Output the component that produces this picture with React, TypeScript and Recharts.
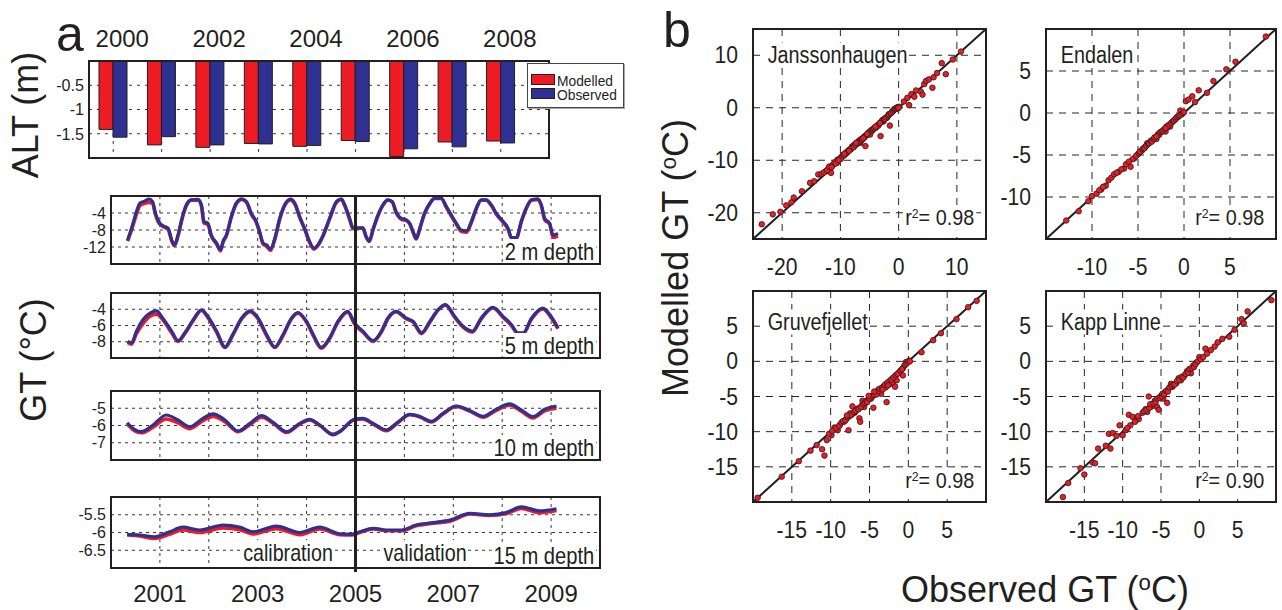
import {
  BarChart,
  Bar,
  LineChart,
  Line,
  ScatterChart,
  Scatter,
  XAxis,
  YAxis,
  CartesianGrid,
  ReferenceLine,
} from 'recharts'

const FONT = '"Liberation Sans", Arial, Helvetica, sans-serif'
const INK = '#231f20'
const RED = '#ed1c24'
const BLUE = '#2e3192'

// ---- panel a: active layer thickness ----
const altYears = [2000, 2001, 2002, 2003, 2004, 2005, 2006, 2007, 2008]
const altModelled = [-1.41, -1.73, -1.78, -1.7, -1.76, -1.64, -1.97, -1.67, -1.65]
const altObserved = [-1.57, -1.56, -1.73, -1.71, -1.74, -1.66, -1.81, -1.77, -1.69]
const altTicks = [-1.5, -1, -0.5]

// ---- panel a: ground temperature series, [year, degC] ----
const tsYears = [2001, 2002, 2003, 2004, 2005, 2006, 2007, 2008, 2009]

const gt2Obs = [
  [2000.34, -10.4], [2000.42, -7.6], [2000.52, -3.7], [2000.59, -1.7], [2000.69, -1.2], [2000.78, -0.7],
  [2000.85, -1.3], [2000.91, -4.1], [2001.0, -6.4], [2001.1, -7.2], [2001.17, -7.6], [2001.24, -10.4],
  [2001.3, -11.5], [2001.37, -9.2], [2001.46, -4.9], [2001.54, -2.1], [2001.64, -0.9], [2001.78, -0.8],
  [2001.85, -2.1], [2001.9, -6.0], [2001.98, -6.4], [2002.05, -9.2], [2002.16, -11.1], [2002.24, -12.7],
  [2002.29, -10.7], [2002.36, -9.2], [2002.46, -4.9], [2002.56, -1.7], [2002.67, -0.7], [2002.77, -1.3],
  [2002.87, -4.1], [2002.97, -6.0], [2003.04, -8.4], [2003.11, -11.1], [2003.18, -11.5], [2003.26, -12.5],
  [2003.35, -10.0], [2003.45, -5.3], [2003.55, -2.1], [2003.67, -0.7], [2003.76, -1.7], [2003.86, -4.9],
  [2003.96, -7.6], [2004.06, -10.7], [2004.15, -12.3], [2004.23, -11.5], [2004.34, -9.2], [2004.47, -5.3],
  [2004.61, -1.3], [2004.71, -0.7], [2004.78, -2.1], [2004.88, -5.3], [2004.95, -7.5], [2005.05, -7.5],
  [2005.15, -7.5], [2005.22, -9.6], [2005.28, -10.6], [2005.36, -7.8], [2005.46, -4.5], [2005.56, -2.1],
  [2005.66, -0.9], [2005.75, -1.3], [2005.83, -3.7], [2005.94, -5.3], [2006.04, -5.6], [2006.11, -6.4],
  [2006.19, -8.8], [2006.24, -10.0], [2006.31, -7.8], [2006.41, -4.1], [2006.52, -1.7], [2006.62, -0.5],
  [2006.75, -0.5], [2006.86, -2.5], [2006.96, -4.5], [2007.06, -6.4], [2007.16, -8.0], [2007.27, -8.2],
  [2007.37, -6.0], [2007.47, -2.9], [2007.57, -0.9], [2007.67, -0.9], [2007.78, -2.1], [2007.88, -4.1],
  [2008.02, -6.0], [2008.12, -7.6], [2008.19, -9.8], [2008.29, -9.8], [2008.39, -6.0], [2008.49, -2.9],
  [2008.6, -0.9], [2008.73, -0.7], [2008.8, -2.1], [2008.87, -5.3], [2008.97, -6.4], [2009.04, -9.2],
  [2009.14, -8.8],
]
const gt2Mod = [
  [2000.34, -10.6], [2000.42, -8.0], [2000.52, -4.3], [2000.59, -2.3], [2000.69, -1.7], [2000.78, -1.5],
  [2000.85, -1.8], [2000.91, -4.4], [2001.0, -6.7], [2001.1, -7.4], [2001.17, -7.9], [2001.24, -10.5],
  [2001.3, -11.7], [2001.37, -9.4], [2001.46, -5.1], [2001.54, -2.3], [2001.64, -1.0], [2001.78, -0.9],
  [2001.85, -2.4], [2001.9, -6.3], [2001.98, -6.7], [2002.05, -9.4], [2002.16, -11.3], [2002.24, -12.9],
  [2002.29, -10.9], [2002.36, -9.3], [2002.46, -5.0], [2002.56, -1.9], [2002.67, -0.8], [2002.77, -1.5],
  [2002.87, -4.3], [2002.97, -6.2], [2003.04, -8.6], [2003.11, -11.3], [2003.18, -11.8], [2003.26, -12.8],
  [2003.35, -10.2], [2003.45, -5.5], [2003.55, -2.3], [2003.67, -0.9], [2003.76, -1.9], [2003.86, -5.1],
  [2003.96, -7.8], [2004.06, -10.9], [2004.15, -12.5], [2004.23, -11.7], [2004.34, -9.3], [2004.47, -5.4],
  [2004.61, -1.5], [2004.71, -0.8], [2004.78, -2.3], [2004.88, -5.5], [2004.95, -7.7], [2005.05, -7.6],
  [2005.15, -7.6], [2005.22, -9.7], [2005.28, -10.7], [2005.36, -7.9], [2005.46, -4.6], [2005.56, -2.2],
  [2005.66, -1.0], [2005.75, -1.4], [2005.83, -3.9], [2005.94, -5.5], [2006.04, -5.8], [2006.11, -6.6],
  [2006.19, -8.9], [2006.24, -10.1], [2006.31, -7.9], [2006.41, -4.2], [2006.52, -1.8], [2006.62, -0.6],
  [2006.75, -0.6], [2006.86, -2.7], [2006.96, -4.7], [2007.06, -6.6], [2007.16, -8.3], [2007.27, -8.5],
  [2007.37, -6.2], [2007.47, -3.0], [2007.57, -1.0], [2007.67, -1.0], [2007.78, -2.3], [2007.88, -4.3],
  [2008.02, -6.2], [2008.12, -7.8], [2008.19, -9.9], [2008.29, -9.9], [2008.39, -6.1], [2008.49, -3.0],
  [2008.6, -1.0], [2008.73, -0.8], [2008.8, -2.3], [2008.87, -5.6], [2008.97, -6.6], [2009.04, -9.8],
  [2009.14, -9.4],
]

const gt5Obs = [
  [2000.34, -7.96], [2000.42, -8.15], [2000.52, -6.7], [2000.65, -5.3], [2000.79, -4.5], [2000.93, -4.2],
  [2001.06, -5.1], [2001.24, -6.7], [2001.37, -7.87], [2001.51, -6.9], [2001.68, -5.3], [2001.85, -4.06],
  [2001.98, -4.9], [2002.16, -6.7], [2002.33, -8.65], [2002.49, -7.1], [2002.67, -5.1], [2002.84, -4.2],
  [2003.01, -5.1], [2003.18, -7.1], [2003.35, -8.65], [2003.52, -7.1], [2003.69, -5.1], [2003.82, -4.4],
  [2004.0, -5.5], [2004.15, -7.3], [2004.3, -8.7], [2004.47, -7.55], [2004.64, -5.5], [2004.84, -4.26],
  [2004.98, -5.7], [2005.15, -6.7], [2005.36, -7.87], [2005.53, -6.7], [2005.66, -5.1], [2005.83, -4.26],
  [2006.04, -5.1], [2006.18, -5.5], [2006.35, -6.9], [2006.52, -5.5], [2006.69, -4.06], [2006.84, -3.44],
  [2007.03, -4.9], [2007.2, -6.1], [2007.39, -6.7], [2007.57, -5.1], [2007.81, -3.77], [2008.02, -4.9],
  [2008.19, -5.9], [2008.32, -6.9], [2008.43, -6.9], [2008.6, -5.1], [2008.83, -3.85], [2009.0, -4.9],
  [2009.14, -6.3],
]
const gt5Mod = [
  [2000.34, -8.1], [2000.42, -8.3], [2000.52, -7.0], [2000.65, -5.8], [2000.79, -4.9], [2000.93, -4.6],
  [2001.06, -5.3], [2001.24, -6.9], [2001.37, -7.95], [2001.51, -7.0], [2001.68, -5.4], [2001.85, -4.15],
  [2001.98, -5.0], [2002.16, -6.8], [2002.33, -8.7], [2002.49, -7.2], [2002.67, -5.2], [2002.84, -4.3],
  [2003.01, -5.2], [2003.18, -7.2], [2003.35, -8.7], [2003.52, -7.2], [2003.69, -5.2], [2003.82, -4.5],
  [2004.0, -5.6], [2004.15, -7.4], [2004.3, -8.8], [2004.47, -7.6], [2004.64, -5.6], [2004.84, -4.35],
  [2004.98, -5.8], [2005.15, -6.8], [2005.36, -7.95], [2005.53, -6.8], [2005.66, -5.2], [2005.83, -4.3],
  [2006.04, -5.2], [2006.18, -5.6], [2006.35, -7.0], [2006.52, -5.6], [2006.69, -4.1], [2006.84, -3.5],
  [2007.03, -5.0], [2007.2, -6.2], [2007.39, -6.8], [2007.57, -5.2], [2007.81, -3.85], [2008.02, -5.0],
  [2008.19, -6.0], [2008.32, -7.0], [2008.43, -7.0], [2008.6, -5.2], [2008.83, -3.95], [2009.0, -5.0],
  [2009.14, -6.4],
]

const gt10Obs = [
  [2000.33, -5.84], [2000.48, -6.22], [2000.62, -6.36], [2000.86, -5.97], [2001.13, -5.39], [2001.37, -5.68],
  [2001.61, -6.07], [2001.88, -5.59], [2002.09, -5.33], [2002.33, -5.68], [2002.6, -6.32], [2002.84, -5.88],
  [2003.08, -5.43], [2003.31, -5.8], [2003.59, -6.36], [2003.86, -5.88], [2004.06, -5.64], [2004.27, -5.97],
  [2004.54, -6.55], [2004.68, -6.36], [2004.98, -5.64], [2005.15, -5.59], [2005.36, -5.88], [2005.63, -6.26],
  [2005.87, -5.8], [2006.11, -5.35], [2006.31, -5.47], [2006.55, -5.76], [2006.79, -5.3], [2007.06, -4.87],
  [2007.34, -5.14], [2007.61, -5.47], [2007.88, -5.06], [2008.15, -4.75], [2008.39, -5.1], [2008.63, -5.49],
  [2008.87, -5.06], [2009.11, -4.87],
]
const gt10Mod = [
  [2000.33, -5.9], [2000.48, -6.3], [2000.62, -6.42], [2000.86, -6.1], [2001.13, -5.62], [2001.37, -5.85],
  [2001.61, -6.18], [2001.88, -5.72], [2002.09, -5.47], [2002.33, -5.78], [2002.6, -6.36], [2002.84, -5.95],
  [2003.08, -5.52], [2003.31, -5.85], [2003.59, -6.4], [2003.86, -5.92], [2004.06, -5.68], [2004.27, -6.0],
  [2004.54, -6.5], [2004.68, -6.34], [2004.98, -5.66], [2005.15, -5.62], [2005.36, -5.92], [2005.63, -6.3],
  [2005.87, -5.83], [2006.11, -5.38], [2006.31, -5.5], [2006.55, -5.8], [2006.79, -5.33], [2007.06, -4.9],
  [2007.34, -5.17], [2007.61, -5.52], [2007.88, -5.12], [2008.15, -4.82], [2008.39, -5.17], [2008.63, -5.56],
  [2008.87, -5.15], [2009.11, -5.0],
]

const gt15Obs = [
  [2000.33, -6.05], [2000.59, -6.07], [2000.89, -6.12], [2001.2, -5.98], [2001.47, -5.85], [2001.81, -5.93],
  [2002.29, -5.79], [2002.63, -5.85], [2002.9, -5.98], [2003.38, -5.82], [2003.86, -6.0], [2004.27, -5.85],
  [2004.68, -6.04], [2004.92, -6.05], [2005.09, -5.98], [2005.36, -5.88], [2005.63, -5.93], [2005.94, -5.93],
  [2006.24, -5.79], [2006.59, -5.72], [2006.93, -5.65], [2007.34, -5.46], [2007.74, -5.5], [2008.08, -5.44],
  [2008.39, -5.28], [2008.77, -5.39], [2009.11, -5.33],
]
const gt15Mod = [
  [2000.33, -6.07], [2000.59, -6.1], [2000.89, -6.17], [2001.2, -6.05], [2001.47, -5.93], [2001.81, -6.0],
  [2002.29, -5.87], [2002.63, -5.92], [2002.9, -6.04], [2003.38, -5.89], [2003.86, -6.06], [2004.27, -5.9],
  [2004.68, -6.06], [2004.92, -6.07], [2005.09, -6.0], [2005.36, -5.9], [2005.63, -5.95], [2005.94, -5.95],
  [2006.24, -5.81], [2006.59, -5.74], [2006.93, -5.68], [2007.34, -5.48], [2007.74, -5.52], [2008.08, -5.47],
  [2008.39, -5.32], [2008.77, -5.44], [2009.11, -5.38],
]

// ---- panel b: modelled vs observed, [observed, modelled] ----
const jansPts = [
  [-23.5, -22.2], [-21.6, -20.3], [-20.3, -19.8], [-19.3, -18.6], [-18.4, -18.0], [-18.0, -17.1], [-16.6, -15.9],
  [-15.2, -14.3], [-14.5, -14.0], [-13.8, -12.7], [-13.2, -12.6], [-12.5, -12.1], [-12.0, -11.4], [-11.8, -11.5],
  [-11.6, -12.4], [-11.2, -10.8], [-10.6, -10.5], [-10.5, -9.9], [-10.0, -9.6], [-9.8, -9.4], [-9.6, -9.0],
  [-9.2, -8.9], [-8.9, -8.6], [-8.6, -8.1], [-8.2, -7.9], [-8.0, -7.4], [-7.8, -7.3], [-7.6, -7.0], [-7.2, -6.9],
  [-7.0, -6.5], [-6.8, -6.3], [-6.6, -6.7], [-6.4, -6.2], [-6.0, -5.6], [-5.7, -7.3], [-5.6, -5.3], [-5.3, -5.1],
  [-5.0, -4.9], [-4.9, -5.1], [-4.8, -4.4], [-4.5, -4.3], [-4.3, -4.0], [-4.1, -3.8], [-3.8, -3.6], [-3.7, -3.5],
  [-3.4, -3.2], [-3.1, -5.4], [-3.0, -2.7], [-2.7, -2.3], [-2.6, -2.6], [-2.3, -2.0], [-2.0, -1.9], [-1.9, -1.7],
  [-1.6, -1.2], [-1.5, -3.4], [-1.2, -0.9], [-1.1, -0.7], [-0.9, -0.5], [-0.6, -0.3], [-0.3, 0.0], [-0.2, 0.1],
  [0.1, 0.2], [0.9, 1.2], [1.5, 1.9], [1.8, 0.5], [2.2, 2.6], [2.7, 2.1], [3.0, 3.3], [3.8, 3.1], [4.1, 2.5],
  [4.4, 4.5], [4.7, 5.1], [5.2, 5.4], [5.8, 3.8], [6.0, 5.8], [6.6, 6.6], [7.4, 8.5], [8.1, 6.4], [9.3, 9.2],
  [10.7, 10.7],
]
const jansDense = [
  [-12.8, -12.3], [-12.3, -11.9], [-11.9, -11.2], [-11.4, -11.0], [-11.0, -10.4], [-10.8, -10.6], [-10.2, -9.8],
  [-9.9, -9.7], [-9.4, -9.1], [-9.0, -8.5], [-8.8, -8.4], [-8.4, -8.0], [-8.1, -7.7], [-7.7, -7.5], [-7.4, -7.1],
  [-7.1, -6.8], [-6.9, -6.6], [-6.7, -6.3], [-6.5, -6.0], [-6.2, -5.9], [-5.9, -5.7], [-5.8, -5.4], [-5.5, -5.2],
  [-5.2, -4.8], [-5.0, -4.6], [-4.7, -4.5], [-4.6, -4.2], [-4.4, -4.1], [-4.2, -3.9], [-3.9, -3.8], [-3.6, -3.3],
  [-3.5, -3.4], [-3.3, -3.0], [-2.9, -2.6], [-2.8, -2.4], [-2.5, -2.2], [-2.4, -2.1], [-2.1, -1.8], [-1.8, -1.5],
  [-1.7, -1.3], [-1.4, -1.1], [-1.3, -1.0], [-1.0, -0.7], [-0.8, -0.4], [-0.7, -0.2], [-0.5, -0.1], [-0.4, -0.2],
  [-0.2, 0.0], [-0.1, -0.1], [0.0, 0.0], [-6.3, -6.1], [-6.1, -5.8], [-5.4, -5.0], [-4.0, -3.6], [-3.2, -2.9],
  [-7.3, -6.7], [-8.5, -8.2], [-9.3, -8.8], [-10.3, -10.0], [-11.5, -11.3],
]
const endaPts = [
  [-12.8, -12.8], [-11.45, -11.7], [-10.4, -10.5], [-10.0, -9.9], [-9.5, -9.6], [-9.0, -9.1], [-8.5, -8.65],
  [-8.2, -8.0], [-7.9, -7.7], [-7.6, -7.3], [-7.1, -7.0], [-6.5, -6.6], [-6.1, -6.0], [-5.8, -6.4], [-5.4, -5.4],
  [-5.0, -4.9], [-4.6, -4.5], [-4.2, -4.0], [-4.0, -3.6], [-3.7, -3.5], [-3.4, -3.2], [-3.1, -2.9], [-3.0, -3.1],
  [-2.8, -2.5], [-2.5, -2.3], [-2.2, -2.0], [-2.0, -2.2], [-1.9, -1.6], [-1.6, -1.4], [-1.5, -1.6], [-1.3, -1.1],
  [-1.0, -0.8], [-0.7, -0.5], [-0.4, 0.3], [-0.2, -0.1], [0.2, 1.4], [0.5, 1.6], [0.9, 2.0], [1.2, 1.3],
  [1.6, 2.7], [2.5, 2.4], [3.2, 3.8], [4.6, 5.2], [5.6, 6.1], [8.9, 9.1],
]
const endaDense = [
  [-5.2, -5.1], [-4.9, -4.8], [-4.8, -4.6], [-4.5, -4.3], [-4.4, -4.2], [-4.3, -4.2], [-4.1, -3.9], [-3.9, -3.7],
  [-3.8, -3.6], [-3.6, -3.3], [-3.5, -3.4], [-3.3, -3.1], [-3.2, -2.9], [-2.9, -2.7], [-2.7, -2.6], [-2.6, -2.3],
  [-2.4, -2.2], [-2.3, -2.1], [-2.1, -1.9], [-1.8, -1.7], [-1.7, -1.5], [-1.4, -1.2], [-1.2, -1.0], [-1.1, -0.9],
  [-0.9, -0.7], [-0.8, -0.5], [-0.6, -0.4], [-0.5, -0.3], [-0.3, -0.2], [-0.1, 0.0], [0.0, 0.1], [-6.3, -6.1],
  [-6.8, -6.7], [-7.3, -7.1], [-9.2, -9.2], [-8.8, -8.8], [-5.6, -5.5], [-6.0, -5.8], [-3.0, -2.8], [-2.0, -1.8],
]
const gruvPts = [
  [-19.4, -19.4], [-16.3, -16.4], [-14.1, -14.2], [-12.6, -12.7], [-11.8, -11.9], [-11.1, -12.5], [-10.8, -13.4],
  [-10.5, -11.2], [-9.9, -10.5], [-9.5, -9.4], [-9.1, -9.8], [-8.8, -9.0], [-8.3, -8.6], [-8.0, -8.2],
  [-7.7, -9.8], [-7.5, -7.4], [-7.3, -7.6], [-7.2, -6.4], [-6.9, -7.3], [-6.6, -6.9], [-6.3, -8.1], [-6.2, -8.6],
  [-6.0, -6.3], [-5.9, -5.6], [-5.7, -6.5], [-5.5, -5.9], [-5.2, -5.5], [-4.9, -5.0], [-4.8, -5.3], [-4.6, -4.9],
  [-4.5, -6.6], [-4.3, -4.6], [-4.0, -4.5], [-3.9, -4.1], [-3.6, -4.1], [-3.5, -4.6], [-3.2, -3.6], [-2.9, -3.7],
  [-2.8, -5.8], [-2.5, -2.9], [-2.3, -3.2], [-2.0, -3.0], [-1.7, -3.6], [-1.5, -2.7], [-1.2, -1.6], [-0.7, -1.0],
  [-0.7, -2.0], [-0.5, -0.6], [-0.3, -0.1], [0.1, 0.1], [1.7, 1.3], [3.2, 3.0], [4.2, 4.0], [6.2, 6.0],
  [7.7, 7.7], [8.8, 8.6],
]
const gruvDense = [
  [-9.3, -9.5], [-8.9, -9.2], [-8.6, -8.7], [-8.4, -8.5], [-8.1, -8.4], [-7.8, -8.0], [-7.6, -7.8], [-7.4, -7.6],
  [-7.0, -7.2], [-6.8, -7.0], [-6.5, -6.7], [-6.4, -6.8], [-6.1, -6.5], [-5.8, -6.1], [-5.6, -5.9], [-5.4, -5.6],
  [-5.3, -5.8], [-5.0, -5.3], [-4.7, -5.0], [-4.4, -4.8], [-4.2, -4.5], [-4.1, -4.7], [-3.8, -4.2], [-3.7, -3.9],
  [-3.4, -3.8], [-3.3, -4.0], [-3.0, -3.3], [-2.7, -3.1], [-2.6, -3.4], [-2.2, -2.6], [-1.9, -2.3], [-1.6, -2.0],
  [-1.4, -1.8], [-1.0, -1.3], [-0.8, -1.1], [-0.4, -0.5], [-0.2, -0.3], [0.0, 0.0], [0.2, 0.0], [-10.2, -10.3],
  [-9.8, -9.9], [-7.9, -7.7], [-5.1, -4.9], [-4.4, -4.3],
]
const kappPts = [
  [-17.8, -19.3], [-17.1, -17.3], [-15.5, -15.2], [-15.0, -16.1], [-13.9, -14.4], [-13.6, -14.5], [-13.2, -12.4],
  [-12.2, -12.0], [-11.8, -10.3], [-11.6, -12.4], [-11.3, -10.2], [-10.4, -9.1], [-10.0, -10.5], [-9.6, -9.8],
  [-9.2, -7.6], [-9.0, -9.1], [-8.7, -7.9], [-8.2, -8.3], [-7.9, -8.2], [-7.4, -7.3], [-7.0, -6.8], [-6.8, -7.2],
  [-6.6, -5.0], [-6.2, -6.4], [-5.8, -5.6], [-5.5, -6.5], [-5.3, -6.9], [-5.0, -4.9], [-4.7, -5.3], [-4.5, -4.4],
  [-4.2, -5.9], [-4.0, -3.9], [-3.7, -3.2], [-3.5, -3.6], [-3.0, -3.1], [-2.7, -2.4], [-2.4, -2.7], [-2.0, -2.1],
  [-1.6, -1.4], [-1.1, -1.7], [-0.8, -0.6], [-0.4, -0.2], [0.0, 0.6], [0.8, 1.8], [1.5, 1.6], [2.4, 2.7],
  [3.0, 3.2], [3.9, 3.5], [4.6, 4.5], [5.5, 6.0], [5.8, 5.4], [6.3, 7.1], [9.4, 8.7],
]
const kappDense = [
  [-7.2, -7.1], [-6.9, -6.9], [-6.5, -6.6], [-6.4, -6.1], [-6.0, -6.0], [-5.7, -5.8], [-5.5, -5.3], [-5.2, -5.2],
  [-4.9, -5.0], [-4.8, -4.6], [-4.6, -4.7], [-4.3, -4.2], [-4.1, -4.3], [-3.9, -3.7], [-3.6, -3.5], [-3.4, -3.3],
  [-3.2, -3.3], [-2.9, -2.8], [-2.6, -2.6], [-2.3, -2.2], [-2.1, -2.3], [-1.8, -1.8], [-1.5, -1.6], [-1.3, -1.1],
  [-1.0, -1.0], [-0.7, -0.8], [-0.5, -0.4], [-0.2, 0.0], [0.2, 0.3], [0.5, 0.6], [-8.4, -8.6], [-8.0, -7.8],
  [-9.4, -9.5], [-10.8, -10.6], [1.0, 1.1], [2.0, 2.1],
]

type Box = { x0: number; y0: number; x1: number; y1: number }

const altBox: Box = { x0: 89, y0: 61, x1: 549, y1: 158 }
const tsLeft = 111
const tsRight = 600
const tsDomain = [2000, 2010]

function Tick(props: any) {
  const { x, y, payload, textAnchor, size, dy = '0.35em', dx = 0, show, sx = 1 } = props
  const v = payload?.value
  if (show && !show(v)) return <g />
  return (
    <g transform={`translate(${x + dx},${y}) scale(${sx},1)`}>
      <text x={0} y={0} dy={dy} textAnchor={textAnchor} fontSize={size} fontFamily={FONT} fill={INK}>
        {String(v)}
      </text>
    </g>
  )
}

function Frame({ b }: { b: Box }) {
  return (
    <div
      style={{
        position: 'absolute',
        left: b.x0 - 1.25,
        top: b.y0 - 1.25,
        width: b.x1 - b.x0 + 2.5,
        height: b.y1 - b.y0 + 2.5,
        border: `2.5px solid ${INK}`,
        boxSizing: 'border-box',
      }}
    />
  )
}

function Label({ x, y, children, size = 23, anchor = 'start', sx = 1, bg = false }: any) {
  const tx = anchor === 'end' ? '-100%' : anchor === 'middle' ? '-50%' : '0'
  const origin = anchor === 'end' ? 'right' : anchor === 'middle' ? 'center' : 'left'
  return (
    <div
      style={{
        position: 'absolute',
        left: x,
        top: y,
        transform: `translate(${tx}, -50%) scaleX(${sx})`,
        transformOrigin: `${origin} center`,
        fontSize: size,
        fontFamily: FONT,
        color: INK,
        lineHeight: 1,
        whiteSpace: 'nowrap',
        background: bg ? '#fff' : 'transparent',
        padding: bg ? '1px 2px' : 0,
      }}
    >
      {children}
    </div>
  )
}

function VLabel({ x, y, children, size = 36 }: any) {
  return (
    <div
      style={{
        position: 'absolute',
        left: x,
        top: y,
        transform: 'translate(-50%, -50%) rotate(-90deg)',
        fontSize: size,
        fontFamily: FONT,
        color: INK,
        lineHeight: 1,
        whiteSpace: 'nowrap',
      }}
    >
      {children}
    </div>
  )
}

const Sup = ({ children }: any) => (
  <span style={{ fontSize: '0.62em', verticalAlign: '0.55em' }}>{children}</span>
)

function AltPanel() {
  const ml = 50
  const mt = 40
  const mr = 4
  const mb = 4
  const data = altYears.map((year, i) => ({ year, modelled: altModelled[i], observed: altObserved[i] }))
  return (
    <div style={{ position: 'absolute', left: altBox.x0 - ml, top: altBox.y0 - mt }}>
      <BarChart
        width={altBox.x1 - altBox.x0 + ml + mr}
        height={altBox.y1 - altBox.y0 + mt + mb}
        data={data}
        margin={{ top: 0, right: mr, bottom: mb, left: 0 }}
        barGap={0}
        barSize={14}
      >
        <CartesianGrid stroke={INK} strokeDasharray="3 5" strokeWidth={0.9} />
        <XAxis
          dataKey="year"
          orientation="top"
          height={mt}
          padding={{ left: 0, right: 24 }}
          axisLine={false}
          tickLine={false}
          tickSize={0}
          tickMargin={14}
          interval={0}
          tick={(p: any) => <Tick {...p} size={24} dy={0} dx={9} show={(v: number) => v % 2 === 0} />}
        />
        <YAxis
          type="number"
          domain={[-2, 0]}
          ticks={altTicks}
          width={ml}
          axisLine={false}
          tickLine={false}
          tickSize={0}
          tickMargin={5}
          interval={0}
          tick={(p: any) => <Tick {...p} size={17} sx={0.95} />}
        />
        <Bar dataKey="modelled" fill={RED} stroke={INK} strokeWidth={1} isAnimationActive={false} />
        <Bar dataKey="observed" fill={BLUE} stroke={INK} strokeWidth={1} isAnimationActive={false} />
      </BarChart>
    </div>
  )
}

function SeriesPanel({ y0, y1, domain, ticks, mod, obs, bottom }: any) {
  const ml = 60
  const mr = 4
  const mt = 4
  const mb = bottom ? 44 : 4
  const toPts = (a: number[][]) => a.map(([t, v]) => ({ t, v }))
  return (
    <div style={{ position: 'absolute', left: tsLeft - ml, top: y0 - mt }}>
      <LineChart
        width={tsRight - tsLeft + ml + mr}
        height={y1 - y0 + mt + mb}
        margin={{ top: mt, right: mr, bottom: bottom ? 0 : mb, left: 0 }}
      >
        <CartesianGrid
          stroke={INK}
          strokeDasharray="3 4"
          strokeWidth={0.9}
          horizontalValues={ticks}
          verticalValues={tsYears}
        />
        <XAxis
          dataKey="t"
          type="number"
          domain={tsDomain}
          ticks={tsYears}
          allowDataOverflow
          hide={!bottom}
          height={bottom ? mb : 0}
          axisLine={false}
          tickLine={false}
          tickSize={0}
          tickMargin={17}
          interval={0}
          tick={(p: any) => <Tick {...p} size={24} dy="0.71em" show={(v: number) => v % 2 === 1} />}
        />
        <YAxis
          type="number"
          domain={domain}
          ticks={ticks}
          allowDataOverflow
          width={ml}
          axisLine={false}
          tickLine={false}
          tickSize={0}
          tickMargin={5}
          interval={0}
          tick={(p: any) => <Tick {...p} size={16} />}
        />
        <Line data={toPts(mod)} dataKey="v" type="monotone" stroke={RED} strokeWidth={3.6} dot={false} isAnimationActive={false} />
        <Line data={toPts(obs)} dataKey="v" type="monotone" stroke={BLUE} strokeWidth={3.2} dot={false} isAnimationActive={false} />
      </LineChart>
    </div>
  )
}

const Dot = (p: any) => <circle cx={p.cx} cy={p.cy} r={2.8} fill={RED} stroke={INK} strokeWidth={0.8} />

function ScatterPanel({ box, dom, ticks, pts, dense }: any) {
  const ml = 60
  const mr = 4
  const mt = 4
  const mb = 44
  const data = [...pts, ...dense].map(([x, y]: number[]) => ({ x, y }))
  return (
    <div style={{ position: 'absolute', left: box.x0 - ml, top: box.y0 - mt }}>
      <ScatterChart
        width={box.x1 - box.x0 + ml + mr}
        height={box.y1 - box.y0 + mt + mb}
        margin={{ top: mt, right: mr, bottom: 0, left: 0 }}
      >
        <CartesianGrid stroke="#262626" strokeDasharray="7 6" strokeWidth={1} />
        <XAxis
          type="number"
          dataKey="x"
          domain={dom}
          ticks={ticks}
          allowDataOverflow
          height={mb}
          axisLine={false}
          tickLine={false}
          tickSize={0}
          tickMargin={20}
          interval={0}
          tick={(p: any) => <Tick {...p} size={23} sx={0.92} dy="0.71em" />}
        />
        <YAxis
          type="number"
          dataKey="y"
          domain={dom}
          ticks={ticks}
          allowDataOverflow
          width={ml}
          axisLine={false}
          tickLine={false}
          tickSize={0}
          tickMargin={15}
          interval={0}
          tick={(p: any) => <Tick {...p} size={23} sx={0.92} />}
        />
        <ReferenceLine
          segment={[
            { x: dom[0], y: dom[0] },
            { x: dom[1], y: dom[1] },
          ]}
          stroke={INK}
          strokeWidth={2}
        />
        <Scatter data={data} shape={Dot} isAnimationActive={false} />
      </ScatterChart>
    </div>
  )
}

const tsPanels = [
  { y0: 196, y1: 264, domain: [-16, 0], ticks: [-12, -8, -4], mod: gt2Mod, obs: gt2Obs, label: '2 m depth' },
  { y0: 293, y1: 358, domain: [-10, -2], ticks: [-8, -6, -4], mod: gt5Mod, obs: gt5Obs, label: '5 m depth' },
  { y0: 391, y1: 460, domain: [-8, -4], ticks: [-7, -6, -5], mod: gt10Mod, obs: gt10Obs, label: '10 m depth' },
  { y0: 497, y1: 568, domain: [-7, -5], ticks: [-6.5, -6, -5.5], mod: gt15Mod, obs: gt15Obs, label: '15 m depth' },
]

const scatterPanels = [
  { box: { x0: 753, y0: 29, x1: 986, y1: 239 }, dom: [-25, 15], ticks: [-20, -10, 0, 10], pts: jansPts, dense: jansDense, name: 'Janssonhaugen', r2: '0.98' },
  { box: { x0: 1046, y0: 29, x1: 1276, y1: 239 }, dom: [-15, 10], ticks: [-10, -5, 0, 5], pts: endaPts, dense: endaDense, name: 'Endalen', r2: '0.98' },
  { box: { x0: 753, y0: 291, x1: 986, y1: 502 }, dom: [-20, 10], ticks: [-15, -10, -5, 0, 5], pts: gruvPts, dense: gruvDense, name: 'Gruvefjellet', r2: '0.98' },
  { box: { x0: 1046, y0: 291, x1: 1276, y1: 502 }, dom: [-20, 10], ticks: [-15, -10, -5, 0, 5], pts: kappPts, dense: kappDense, name: 'Kapp Linne', r2: '0.90' },
]

export default function App() {
  const splitX = tsLeft + ((2005 - tsDomain[0]) / (tsDomain[1] - tsDomain[0])) * (tsRight - tsLeft)
  return (
    <div
      style={{
        position: 'absolute',
        left: 0,
        top: 0,
        width: 1282,
        height: 610,
        background: '#fff',
        fontFamily: FONT,
      }}
    >
      <AltPanel />
      {tsPanels.map((p, i) => (
        <SeriesPanel key={p.label} {...p} bottom={i === tsPanels.length - 1} />
      ))}
      {scatterPanels.map((p) => (
        <ScatterPanel key={p.name} {...p} />
      ))}

      {/* in-plot labels */}
      {tsPanels.map((p) => (
        <Label key={p.label} x={596} y={p.y1 - 12} anchor="end" sx={0.84} bg size={24}>
          {p.label}
        </Label>
      ))}
      <Label x={288} y={553} anchor="middle" sx={0.82} bg size={24}>calibration</Label>
      <Label x={425} y={553} anchor="middle" sx={0.82} bg size={24}>validation</Label>
      {scatterPanels.map((p) => (
        <Label key={p.name} x={p.box.x0 + 13} y={p.box.y0 + (p.box.y0 < 100 ? 26 : 31)} sx={0.86} bg size={23}>
          {p.name}
        </Label>
      ))}
      {scatterPanels.map((p) => (
        <Label key={p.name + 'r'} x={p.box.x1 - 10} y={p.box.y1 - 21} anchor="end" sx={0.9} bg size={22}>
          r<Sup>2</Sup>= {p.r2}
        </Label>
      ))}

      {/* calibration / validation split */}
      <div style={{ position: 'absolute', left: splitX - 1.5, top: 195, width: 3, height: 377, background: INK }} />

      <Frame b={altBox} />
      {tsPanels.map((p) => (
        <Frame key={p.label} b={{ x0: tsLeft, y0: p.y0, x1: tsRight, y1: p.y1 }} />
      ))}
      {scatterPanels.map((p) => (
        <Frame key={p.name} b={p.box} />
      ))}

      {/* legend, drawn over the bar panel frame */}
      <div
        style={{
          position: 'absolute',
          left: 527,
          top: 63,
          width: 97,
          height: 45,
          border: '1px solid #444',
          boxShadow: '1px 1px 0 #aaa',
          background: '#fff',
          boxSizing: 'border-box',
        }}
      >
        {[
          { c: RED, t: 'Modelled', top: 10 },
          { c: BLUE, t: 'Observed', top: 24 },
        ].map((r) => (
          <div key={r.t}>
            <div
              style={{
                position: 'absolute',
                left: 3,
                top: r.top,
                width: 24,
                height: 11,
                background: r.c,
                border: `1px solid ${INK}`,
                boxSizing: 'border-box',
              }}
            />
            <div
              style={{
                position: 'absolute',
                left: 29,
                top: r.top + 5.5,
                transform: 'translateY(-50%) scaleX(0.92)',
                transformOrigin: 'left center',
                fontSize: 15,
                lineHeight: 1,
                color: INK,
                whiteSpace: 'nowrap',
              }}
            >
              {r.t}
            </div>
          </div>
        ))}
      </div>

      {/* panel letters and axis titles */}
      <Label x={56} y={34} size={50}>a</Label>
      <Label x={663} y={30} size={50}>b</Label>
      <VLabel x={26} y={115}>ALT (m)</VLabel>
      <VLabel x={34} y={360}>GT (°C)</VLabel>
      <VLabel x={676} y={258}>
        Modelled GT (<Sup>o</Sup>C)
      </VLabel>
      <Label x={1045} y={590} anchor="middle" size={36}>
        Observed GT (<Sup>o</Sup>C)
      </Label>
    </div>
  )
}
